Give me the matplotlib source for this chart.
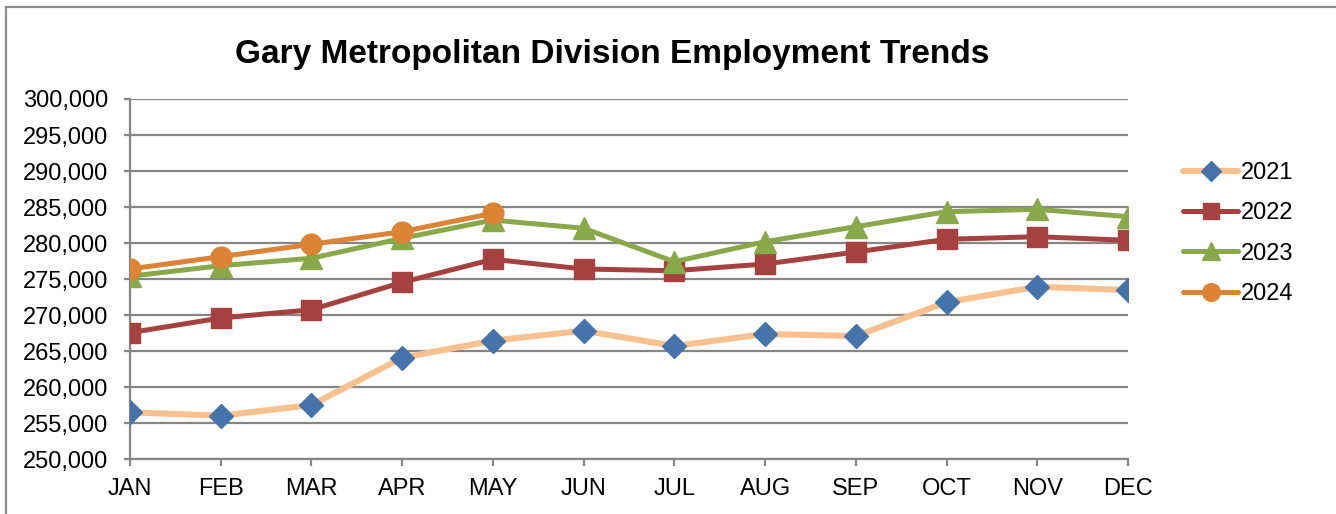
import matplotlib
matplotlib.use("Agg")
import matplotlib.pyplot as plt
from matplotlib.ticker import FuncFormatter, MultipleLocator
from matplotlib.patches import Rectangle

plt.rcParams['font.family'] = ['Liberation Sans', 'DejaVu Sans']

months = ["JAN", "FEB", "MAR", "APR", "MAY", "JUN", "JUL", "AUG", "SEP", "OCT", "NOV", "DEC"]
y2021 = [256520, 256050, 257530, 264100, 266460, 267850, 265720, 267390, 267110, 271790, 273950, 273490]
y2022 = [267570, 269610, 270760, 274560, 277750, 276410, 276170, 277100, 278770, 280530, 280890, 280390]
y2023 = [275400, 276870, 277900, 280670, 283200, 282060, 277420, 280200, 282280, 284360, 284690, 283670]
y2024 = [276410, 278120, 279840, 281590, 284140]

title = "Gary Metropolitan Division Employment Trends"

W, H = 1336, 514
fig = plt.figure(figsize=(W / 100, H / 100), dpi=100)
ax = fig.add_axes([130 / W, (H - 459.3) / H, (1128 - 130) / W, (459.3 - 99) / H])

grid_c = "#868686"

ax.plot(range(len(y2021)), y2021, color="#FAC090", lw=4.4, marker="D", ms=12,
        mfc="#4674AA", mec="#4674AA", label="2021", solid_capstyle="round", zorder=3)
ax.plot(range(len(y2022)), y2022, color="#A5423F", lw=3.6, marker="s", ms=14,
        mfc="#A5423F", mec="#A5423F", label="2022", solid_capstyle="round", zorder=4)
ax.plot(range(len(y2023)), y2023, color="#88A84A", lw=3.6, marker="^", ms=15.5,
        mfc="#88A84A", mec="#88A84A", label="2023", solid_capstyle="round", zorder=5)
ax.plot(range(len(y2024)), y2024, color="#DC8336", lw=3.6, marker="o", ms=15,
        mfc="#DC8336", mec="#DC8336", label="2024", solid_capstyle="round", zorder=6)

ax.set_xlim(0, 11)
ax.set_ylim(250000, 300000)
ax.yaxis.set_major_locator(MultipleLocator(5000))
ax.yaxis.set_major_formatter(FuncFormatter(lambda v, p: f"{int(v):,}"))
ax.set_xticks(range(len(months)))
ax.set_xticklabels(months)

ax.grid(axis="y", color=grid_c, lw=1.6, zorder=1)
ax.set_axisbelow(True)
for s in ["top", "right"]:
    ax.spines[s].set_visible(False)
for s in ["left", "bottom"]:
    ax.spines[s].set_color(grid_c)
    ax.spines[s].set_linewidth(1.6)
ax.tick_params(axis="both", direction="out", color=grid_c, width=1.6, labelsize=17,
               labelcolor="black")
ax.tick_params(axis="x", length=5, pad=8.5)
ax.tick_params(axis="y", length=4.5, pad=11)
for lab in ax.get_xticklabels():
    lab.set_clip_on(False)

fig.text(612 / W, 1 - 54 / H, title, ha="center", va="center", fontsize=24,
         fontweight="bold", color="black")

leg = ax.legend(loc="center left", bbox_to_anchor=(1183 / W, 1 - 233.5 / H),
                bbox_transform=fig.transFigure, frameon=False, fontsize=17,
                handlelength=2.35, handletextpad=0.12, labelspacing=0.78,
                borderpad=0, borderaxespad=0, markerscale=0.85)

# chart outer border (top and left visible)
fig.add_artist(Rectangle((6 / W, -0.1), 1.2, 1 - 7 / H + 0.1, transform=fig.transFigure,
                         fill=False, edgecolor="#8c8c8c", lw=1.6))

fig.savefig("out.png", dpi=100)
